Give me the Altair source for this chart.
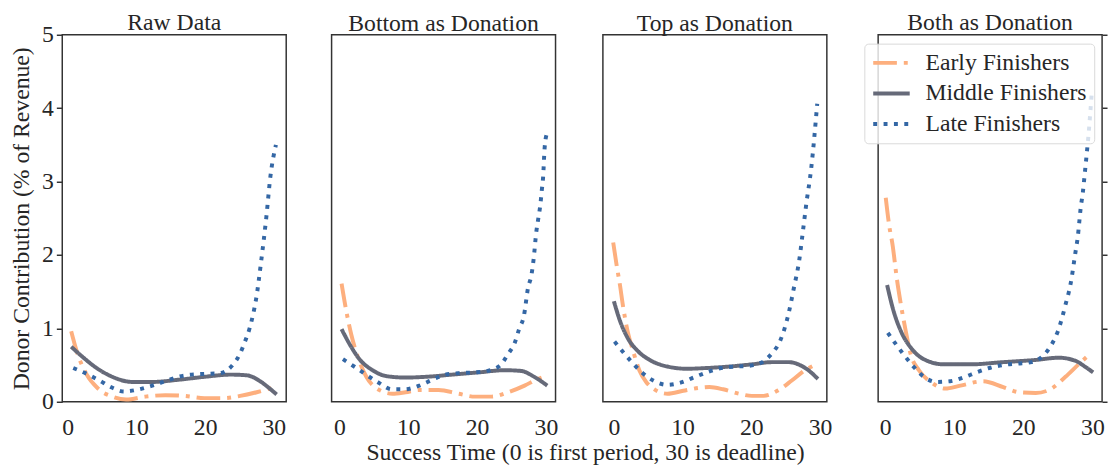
import altair as alt
import pandas as pd

SERIES = ["Early Finishers", "Middle Finishers", "Late Finishers"]
COLORS = ["#FDAF7E", "#666A79", "#3467A5"]
DASHES = [[24, 7, 4, 7], [1, 0], [4, 6.5]]
PANELS = ["Raw Data", "Bottom as Donation", "Top as Donation", "Both as Donation"]
X_TITLE = "Success Time (0 is first period, 30 is deadline)"
Y_TITLE = "Donor Contribution (% of Revenue)"
X_TICKS = [0, 10, 20, 30]
Y_TICKS = [0, 1, 2, 3, 4, 5]

# ---- Raw Data
RAW_EARLY_X = [0.5, 1.3, 2.7, 4.4, 6.5, 8.5, 11.3, 14.2, 17.0, 19.9, 22.7, 25.1, 27.5, 29.4, 30.4]
RAW_EARLY_Y = [0.96, 0.69, 0.38, 0.18, 0.07, 0.03, 0.07, 0.09, 0.08, 0.05, 0.05, 0.08, 0.13, 0.18, 0.21]
RAW_MID_X = [0.5, 2.3, 4.2, 6.5, 9.4, 12.3, 16.1, 19.9, 23.7, 26.1, 28.0, 29.4, 30.4]
RAW_MID_Y = [0.75, 0.60, 0.46, 0.34, 0.27, 0.27, 0.30, 0.34, 0.37, 0.36, 0.28, 0.18, 0.10]
RAW_LATE_X = [0.8, 3.0, 4.6, 6.3, 8.2, 10.4, 12.3, 14.2, 16.1, 18.0, 20.1, 22.2, 23.9, 25.0, 25.8, 26.5,
              27.0, 27.4, 28.2, 28.9, 29.5, 30.3]
RAW_LATE_Y = [0.46, 0.37, 0.29, 0.20, 0.14, 0.17, 0.22, 0.28, 0.34, 0.37, 0.38, 0.39, 0.49, 0.64, 0.82, 1.01,
              1.20, 1.39, 1.95, 2.51, 3.07, 3.50]

# ---- Bottom as Donation
BOT_EARLY_X = [0.3, 1.0, 1.7, 2.7, 3.9, 5.8, 7.7, 9.6, 11.6, 14.4, 17.3, 19.7, 22.1, 24.5, 26.9, 28.8, 30.0]
BOT_EARLY_Y = [1.61, 1.23, 0.92, 0.60, 0.34, 0.16, 0.11, 0.13, 0.16, 0.16, 0.11, 0.07, 0.07, 0.13, 0.22, 0.31, 0.35]
BOT_MID_X = [0.3, 1.5, 2.9, 4.8, 6.8, 9.6, 12.5, 16.4, 20.2, 24.0, 26.4, 28.3, 30.2]
BOT_MID_Y = [0.99, 0.78, 0.58, 0.43, 0.35, 0.33, 0.34, 0.37, 0.40, 0.43, 0.42, 0.34, 0.22]
BOT_LATE_X = [0.5, 2.3, 4.0, 5.7, 7.6, 9.5, 11.6, 13.5, 15.4, 17.3, 19.5, 21.5, 23.3, 24.5, 25.5, 26.1,
              26.8, 27.4, 27.9, 28.2, 28.6, 28.9, 29.2, 29.4, 29.6, 29.8, 30.1]
BOT_LATE_Y = [0.58, 0.47, 0.36, 0.26, 0.17, 0.17, 0.22, 0.30, 0.37, 0.39, 0.40, 0.42, 0.49, 0.65, 0.81, 0.99,
              1.17, 1.55, 1.73, 1.93, 2.31, 2.50, 2.69, 2.88, 3.07, 3.44, 3.64]

# ---- Top as Donation
TOP_EARLY_X = [-0.1, 0.4, 0.9, 1.3, 2.0, 2.8, 3.7, 4.7, 5.9, 7.8, 10.1, 12.5, 13.9, 15.9, 18.2, 20.1, 21.8,
               24.0, 25.9, 27.8, 29.0]
TOP_EARLY_Y = [2.17, 1.86, 1.58, 1.32, 0.96, 0.69, 0.43, 0.27, 0.17, 0.11, 0.15, 0.19, 0.20, 0.17, 0.11, 0.08, 0.08,
               0.16, 0.29, 0.43, 0.49]
TOP_MID_X = [0.0, 0.9, 2.0, 3.5, 5.4, 7.8, 10.6, 13.5, 16.8, 20.1, 23.0, 25.4, 27.3, 28.7, 29.7]
TOP_MID_Y = [1.37, 1.10, 0.87, 0.69, 0.56, 0.48, 0.45, 0.46, 0.48, 0.51, 0.54, 0.54, 0.49, 0.40, 0.31]
TOP_LATE_X = [0.1, 1.5, 2.8, 4.2, 5.9, 7.8, 9.7, 11.6, 13.5, 15.6, 17.8, 19.7, 21.6, 23.0, 24.2, 25.4, 26.2,
              27.0, 27.5, 28.0, 28.7, 29.6]
TOP_LATE_Y = [0.82, 0.66, 0.52, 0.39, 0.28, 0.23, 0.26, 0.33, 0.40, 0.46, 0.48, 0.49, 0.54, 0.66, 0.83, 1.19, 1.55,
              1.94, 2.31, 2.69, 3.16, 4.06]

# ---- Both as Donation
BOTH_EARLY_X = [0.1, 0.6, 1.1, 1.7, 2.3, 3.0, 3.7, 4.9, 6.6, 8.7, 10.9, 14.2, 17.1, 19.4, 21.8, 23.7, 26.1,
                28.0, 29.4]
BOTH_EARLY_Y = [2.78, 2.40, 2.13, 1.68, 1.32, 0.96, 0.65, 0.43, 0.27, 0.18, 0.22, 0.28, 0.20, 0.13, 0.12, 0.16, 0.34,
                0.51, 0.63]
BOTH_MID_X = [0.3, 1.1, 2.3, 3.7, 5.6, 8.5, 12.3, 17.1, 21.8, 25.1, 27.5, 28.9, 30.1]
BOTH_MID_Y = [1.59, 1.28, 0.96, 0.74, 0.58, 0.51, 0.51, 0.54, 0.57, 0.60, 0.56, 0.48, 0.40]
BOTH_LATE_X = [0.4, 1.6, 2.8, 4.2, 5.6, 7.5, 9.4, 11.6, 13.2, 15.1, 17.0, 19.2, 21.2, 22.9, 24.1, 25.0, 25.6,
               26.1, 26.6, 27.0, 27.3, 27.6, 27.9, 28.1, 28.3, 28.6, 28.8, 29.0, 29.2, 29.4, 29.9]
BOTH_LATE_Y = [0.94, 0.78, 0.63, 0.47, 0.34, 0.27, 0.28, 0.34, 0.40, 0.46, 0.50, 0.52, 0.54, 0.63, 0.78, 0.96, 1.14,
               1.32, 1.50, 1.69, 1.88, 2.07, 2.26, 2.45, 2.64, 2.84, 3.02, 3.21, 3.40, 3.60, 4.20]

PANEL_DATA = [
    [(RAW_EARLY_X, RAW_EARLY_Y), (RAW_MID_X, RAW_MID_Y), (RAW_LATE_X, RAW_LATE_Y)],
    [(BOT_EARLY_X, BOT_EARLY_Y), (BOT_MID_X, BOT_MID_Y), (BOT_LATE_X, BOT_LATE_Y)],
    [(TOP_EARLY_X, TOP_EARLY_Y), (TOP_MID_X, TOP_MID_Y), (TOP_LATE_X, TOP_LATE_Y)],
    [(BOTH_EARLY_X, BOTH_EARLY_Y), (BOTH_MID_X, BOTH_MID_Y), (BOTH_LATE_X, BOTH_LATE_Y)],
]
X_DOMAINS = [[-0.8, 31.8], [-1.15, 31.4], [-1.6, 31.0], [-1.0, 31.4]]

FONT = "Liberation Serif"
TXT = "#262626"
W, H = 227, 372
GAP = 44
LEGEND_SHIFT = 14


def make_panel(i):
    rows = []
    for s, (xs, ys) in zip(SERIES, PANEL_DATA[i]):
        for xv, yv in zip(xs, ys):
            rows.append({"series": s, "x": xv, "y": yv})
    df = pd.DataFrame(rows)

    x_axis = alt.Axis(values=X_TICKS, ticks=False, domain=False, grid=False, labelPadding=14, title=None)

    if i == 0:
        y_axis = alt.Axis(values=Y_TICKS, format="d", tickSize=6, domain=False, grid=False,
                          labelPadding=3, titlePadding=8, title=Y_TITLE, titleFontSize=24)
    elif i == 3:
        y_axis = alt.Axis(values=Y_TICKS, orient="right", labels=False, tickSize=5, domain=False,
                          grid=False, title=None)
    else:
        y_axis = None

    if i == 3:
        legend = alt.Legend(title=None, orient="none", legendX=-LEGEND_SHIFT, legendY=9, symbolType="stroke",
                            symbolSize=1369, symbolStrokeWidth=4, clipHeight=25, rowPadding=6,
                            labelFont=FONT, labelFontSize=24, labelColor=TXT, labelLimit=300,
                            fillColor="rgba(255,255,255,0.8)", strokeColor="#d9d9d9",
                            cornerRadius=4, padding=7, labelOffset=14)
    else:
        legend = None

    title = alt.TitleParams(PANELS[i], offset=(-12 if i == 0 else -1))

    return alt.Chart(df).mark_line(strokeWidth=4, interpolate="monotone", strokeCap="butt").encode(
        x=alt.X("x:Q", scale=alt.Scale(domain=X_DOMAINS[i], nice=False, zero=False), axis=x_axis),
        y=alt.Y("y:Q", scale=alt.Scale(domain=[0, 5], nice=False, zero=False), axis=y_axis),
        color=alt.Color("series:N", sort=SERIES,
                        scale=alt.Scale(domain=SERIES, range=COLORS), legend=legend),
        strokeDash=alt.StrokeDash("series:N", sort=SERIES,
                                  scale=alt.Scale(domain=SERIES, range=DASHES), legend=legend),
        order=alt.Order("x:Q"),
    ).properties(width=W, height=H, title=title)


left_group = alt.hconcat(make_panel(0), make_panel(1), make_panel(2), spacing=GAP)

chart = alt.hconcat(left_group, make_panel(3), spacing=GAP - LEGEND_SHIFT).resolve_legend(
    color="independent", strokeDash="independent"
).properties(
    title=alt.TitleParams(X_TITLE, orient="bottom", anchor="middle", dx=27, offset=1),
    padding={"left": 1, "top": -1, "right": 0, "bottom": 0},
).configure_view(
    stroke="#333333", strokeWidth=1.5
).configure_axis(
    labelFont=FONT, labelFontSize=24, labelColor=TXT, titleFont=FONT, titleFontSize=24,
    titleColor=TXT, titleFontWeight="normal", tickColor="#333333", tickWidth=1.5
).configure_title(
    font=FONT, fontSize=24, fontWeight="normal", color=TXT
)

chart.save("out.html", embed_options={"renderer": "svg", "actions": False})
